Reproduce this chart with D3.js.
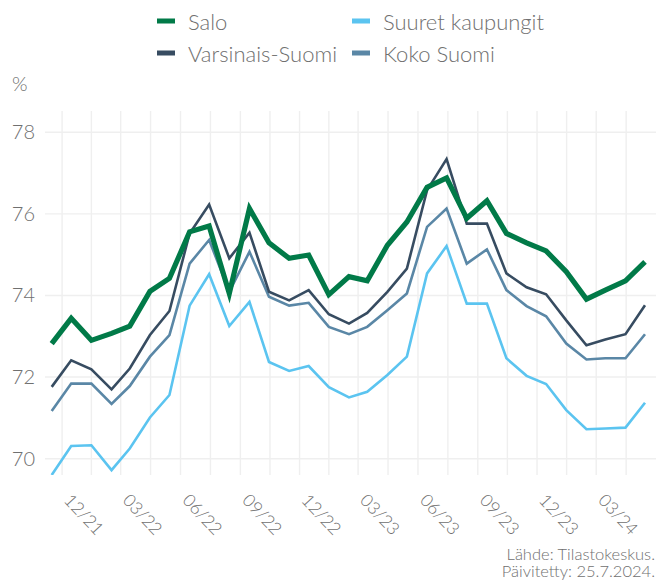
<!DOCTYPE html>
<html>
<head>
<meta charset="utf-8">
<script src="https://cdn.jsdelivr.net/npm/d3@7"></script>
<style>
  html, body { margin: 0; padding: 0; background: #fff; }
  svg { display: block; font-family: Lato, "Open Sans", sans-serif; font-weight: 300; }
</style>
</head>
<body>
<svg id="chart" width="656" height="580"></svg>
<script>
// ---- data ----
const months = ["11/21","12/21","01/22","02/22","03/22","04/22","05/22","06/22","07/22","08/22","09/22","10/22","11/22","12/22",
  "01/23","02/23","03/23","04/23","05/23","06/23","07/23","08/23","09/23","10/23","11/23","12/23",
  "01/24","02/24","03/24","04/24","05/24"];
const salo = [72.82,73.44,72.90,73.07,73.25,74.10,74.42,75.56,75.70,74.05,76.13,75.29,74.91,74.99,74.02,74.46,74.36,75.23,75.80,76.65,76.88,75.89,76.32,75.52,75.29,75.09,74.58,73.91,74.13,74.36,74.82];
const varsinaisSuomi = [71.76,72.41,72.19,71.70,72.21,73.03,73.62,75.52,76.23,74.91,75.54,74.09,73.88,74.13,73.54,73.31,73.57,74.09,74.66,76.58,77.34,75.76,75.76,74.54,74.20,74.03,73.39,72.78,72.92,73.05,73.76];
const kokoSuomi = [71.17,71.84,71.84,71.34,71.78,72.50,73.03,74.78,75.36,74.09,75.07,73.97,73.75,73.82,73.23,73.05,73.23,73.64,74.05,75.68,76.13,74.78,75.13,74.13,73.74,73.49,72.82,72.43,72.46,72.46,73.05];
const suuretKaupungit = [69.60,70.31,70.33,69.72,70.25,71.01,71.56,73.75,74.52,73.25,73.84,72.37,72.15,72.27,71.75,71.50,71.64,72.05,72.50,74.54,75.21,73.80,73.80,72.46,72.03,71.83,71.19,70.72,70.74,70.76,71.37];
const xTickLabels = ["12/21","03/22","06/22","09/22","12/22","03/23","06/23","09/23","12/23","03/24"];
const yTicks = [70, 72, 74, 76, 78];
const seriesNames = ["Salo", "Suuret kaupungit", "Varsinais-Suomi", "Koko Suomi"];
const seriesColors = {"Salo": "#017a48", "Suuret kaupungit": "#5bc4f0", "Varsinais-Suomi": "#374c61", "Koko Suomi": "#5a87a6"};
const sourceLines = ["Lähde: Tilastokeskus.", "Päivitetty: 25.7.2024."];

// ---- helpers ----
const parseMonth = (s, day) => { const [m, y] = s.split("/").map(Number); return new Date(2000 + y, m - 1, day); };
const dates = months.map(m => parseMonth(m, 15));
const tickDates = xTickLabels.map(m => parseMonth(m, 1));

const svg = d3.select("#chart");
const plot = {left: 45, right: 656, top: 111, bottom: 475};
const x = d3.scaleTime().domain([dates[0], dates[dates.length - 1]]).range([51.7, 645]);
const y = d3.scaleLinear().domain([69.6, 78.52]).range([plot.bottom, plot.top]);

const textColor = "#707070";
const gridColor = "#efefef";

// grid lines: major at ticks, minor at midpoints
const majors = tickDates.concat([d3.timeMonth.offset(tickDates[tickDates.length - 1], 3)]);
const minors = d3.range(majors.length - 1).map(i => new Date((+majors[i] + +majors[i + 1]) / 2));
const vGrid = majors.concat(minors).filter(d => x(d) >= plot.left && x(d) <= plot.right);

svg.append("g").selectAll("line").data(vGrid).join("line")
  .attr("x1", d => x(d)).attr("x2", d => x(d))
  .attr("y1", plot.top).attr("y2", plot.bottom)
  .attr("stroke", gridColor).attr("stroke-width", 1.4);
svg.append("g").selectAll("line").data(yTicks).join("line")
  .attr("x1", plot.left).attr("x2", plot.right)
  .attr("y1", d => y(d)).attr("y2", d => y(d))
  .attr("stroke", gridColor).attr("stroke-width", 1.4);

// y tick labels
svg.append("g").selectAll("text").data(yTicks).join("text")
  .attr("x", 35).attr("y", d => y(d) + 7)
  .attr("text-anchor", "end").attr("font-size", 20).attr("fill", textColor)
  .text(d => d);
svg.append("text").attr("x", 12).attr("y", 91).attr("font-size", 20).attr("fill", textColor).text("%");

// x tick labels (rotated)
svg.append("g").selectAll("text").data(tickDates).join("text")
  .attr("transform", (d) => `translate(${x(d) + 1},501) rotate(47)`)
  .attr("font-size", 17.5).attr("fill", textColor)
  .text((d, i) => xTickLabels[i]);

// clip
svg.append("clipPath").attr("id", "clip").append("rect")
  .attr("x", plot.left).attr("y", plot.top).attr("width", plot.right - plot.left).attr("height", plot.bottom - plot.top);

const line = d3.line().x((d, i) => x(dates[i])).y(d => y(d));
const drawOrder = [
  {name: "Suuret kaupungit", values: suuretKaupungit, w: 2.6},
  {name: "Koko Suomi", values: kokoSuomi, w: 2.6},
  {name: "Varsinais-Suomi", values: varsinaisSuomi, w: 2.6},
  {name: "Salo", values: salo, w: 5.2}
];
const lines = svg.append("g").attr("clip-path", "url(#clip)");
drawOrder.forEach(s => {
  lines.append("path").datum(s.values)
    .attr("d", line).attr("fill", "none")
    .attr("stroke", seriesColors[s.name]).attr("stroke-width", s.w);
});

// legend
const legend = svg.append("g");
seriesNames.forEach((name, i) => {
  const col = i % 2, row = Math.floor(i / 2);
  const lx = col === 0 ? 157 : 352;
  const by = 30 + row * 32;
  legend.append("rect").attr("x", lx).attr("y", by - 11.5).attr("width", 18).attr("height", 5)
    .attr("fill", seriesColors[name]);
  legend.append("text").attr("x", lx + 31).attr("y", by)
    .attr("font-size", 22).attr("fill", textColor).text(name);
});

// source
svg.append("g").selectAll("text").data(sourceLines).join("text")
  .attr("x", 655).attr("y", (d, i) => 560 + i * 16.5)
  .attr("text-anchor", "end").attr("font-size", 16.5).attr("fill", textColor)
  .text(d => d);
</script>
</body>
</html>
